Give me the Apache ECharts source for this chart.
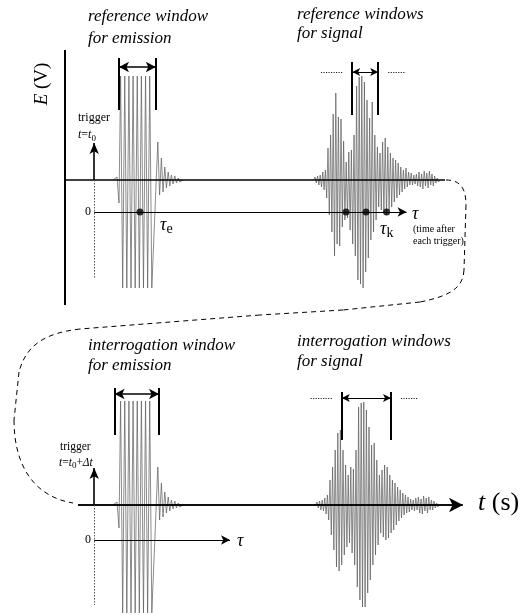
<!DOCTYPE html>
<html>
<head>
<meta charset="utf-8">
<script src="https://cdn.jsdelivr.net/npm/echarts@6/dist/echarts.min.js"></script>
<style>
html,body{margin:0;padding:0;background:#fff;}
#chart{width:525px;height:615px;}
</style>
</head>
<body>
<div id="chart"></div>
<script>
// ---------------- data (time in µs, field E in V, arbitrary schematic units) ----------------
// emission burst (clipped drive pulse followed by ringing), same in both records
const emissionT = [12.0, 13.0, 13.5,
  13.9, 14.15, 14.42, 14.67, 14.94, 15.19, 15.46, 15.71,
  15.98, 16.23, 16.50, 16.75, 17.02, 17.27, 17.54, 17.79,
  18.06, 18.31, 18.58, 18.83, 19.10, 19.35, 19.62, 19.87,
  20.14, 20.39, 20.66, 20.91, 21.18, 21.43, 21.70, 21.95,
  23.2, 23.65, 24.1, 24.5, 24.95, 25.35, 25.8, 26.2, 26.6, 27.0, 27.45, 27.85, 28.3, 28.7, 29.5];
const emissionE = [0, 0.03, -0.23,
  1.04, 1.04, -1.08, -1.08, 1.04, 1.04, -1.08, -1.08,
  1.04, 1.04, -1.08, -1.08, 1.04, 1.04, -1.08, -1.08,
  1.04, 1.04, -1.08, -1.08, 1.04, 1.04, -1.08, -1.08,
  1.04, 1.04, -1.08, -1.08, 1.04, 1.04, -1.08, -1.08,
  0.38, -0.15, 0.22, -0.12, 0.13, -0.08, 0.08, -0.06, 0.05, -0.04, 0.04, -0.03, 0.02, -0.02, 0];

// coda signal: successive half-cycle peaks (top, bottom, top, ...)
const signalHalfPeriod = 0.325;
const refSignalStart = 62.5;
const refSignalPeaks = [
  0.03,-0.03, 0.04,-0.05, 0.05,-0.07, 0.08,-0.10, 0.10,-0.18,
  0.32,-0.35, 0.45,-0.52, 0.66,-0.76, 0.87,-0.64, 0.63,-0.66,
  0.61,-0.47, 0.39,-0.40, 0.18,-0.38, 0.28,-0.50, 0.30,-0.64,
  0.45,-0.76, 0.94,-1.00, 1.03,-1.04, 1.04,-1.08, 0.98,-0.92,
  0.80,-0.78, 0.62,-0.60, 0.78,-0.52, 0.45,-0.40, 0.33,-0.27,
  0.27,-0.30, 0.38,-0.33, 0.42,-0.35, 0.33,-0.30, 0.27,-0.27,
  0.22,-0.22, 0.20,-0.18, 0.17,-0.15, 0.13,-0.12, 0.10,-0.09,
  0.12,-0.07, 0.08,-0.05, 0.07,-0.05, 0.05,-0.04, 0.06,-0.06,
  0.08,-0.07, 0.06,-0.09, 0.09,-0.06, 0.07,-0.08, 0.09,-0.05,
  0.06,-0.06, 0.04,-0.03, 0.02,-0.02];
const intSignalStart = 63.0;
const intSignalPeaks = [
  0.03,-0.03, 0.04,-0.05, 0.05,-0.06, 0.07,-0.09, 0.10,-0.15,
  0.25,-0.30, 0.38,-0.45, 0.55,-0.62, 0.72,-0.66, 0.75,-0.60,
  0.55,-0.50, 0.40,-0.42, 0.30,-0.38, 0.38,-0.48, 0.36,-0.60,
  0.55,-0.82, 0.98,-0.95, 1.02,-1.02, 1.03,-1.02, 0.95,-0.88,
  0.78,-0.75, 0.60,-0.60, 0.62,-0.50, 0.45,-0.40, 0.30,-0.28,
  0.35,-0.32, 0.40,-0.35, 0.38,-0.33, 0.30,-0.28, 0.25,-0.25,
  0.22,-0.20, 0.18,-0.16, 0.15,-0.13, 0.12,-0.10, 0.10,-0.08,
  0.08,-0.07, 0.06,-0.05, 0.05,-0.06, 0.07,-0.05, 0.08,-0.08,
  0.06,-0.09, 0.09,-0.06, 0.07,-0.08, 0.08,-0.05, 0.05,-0.05,
  0.04,-0.03, 0.02,-0.02];

// annotation values (time µs / E)
const triggerT = 7.3;
const triggerTipE = 0.37;
const refAxisEndT = 95;
const intAxisStartT = 3.25, intAxisEndT = 99.5;
const refTauE = -0.32, intTauE = -0.35;
const refTauEndT = 85.4, intTauEndT = 41.25;
const refDotsT = [18.75, 70.25, 75.25, 80.4];
const refEmissionWindow = [13.5, 22.7];
const refSignalWindow = [71.8, 78.3];
const intEmissionWindow = [12.4, 23.5];
const intSignalWindow = [69.2, 81.5];

// ---------------- build ----------------
function burst(start, peaks) {
  const pts = [[start - signalHalfPeriod, 0]];
  peaks.forEach((v, i) => pts.push([start + i * signalHalfPeriod, v]));
  pts.push([start + peaks.length * signalHalfPeriod, 0]);
  return pts;
}
const emissionData = emissionT.map((t, i) => [t, emissionE[i]]);

function seg(a, b, style, s0, s1, size) {
  return [
    {coord: a, symbol: s0 || 'none', symbolSize: size || 8, lineStyle: style},
    {coord: b, symbol: s1 || 'none', symbolSize: size || 8}
  ];
}
const BL = {color: '#000', width: 2, type: 'solid'};
const TH = {color: '#000', width: 1, type: 'solid'};
const DOT = {color: '#222', width: 1, type: [1.2, 1.3]};
const VDOT = {color: '#555', width: 1, type: [1.5, 1.5]};

function annotations(win, sigWin, winTop, winBot, arrE, tauE, tauEnd, trigBottom) {
  return [
    seg([triggerT, 0], [triggerT, triggerTipE], {color:'#000', width:1.6, type:'solid'}, 'none', 'arrow', [7, 11]),
    seg([triggerT, 0], [triggerT, trigBottom], VDOT),
    seg([triggerT, tauE], [tauEnd, tauE], TH, 'none', 'arrow', [7, 9]),
    seg([win[0], winBot], [win[0], winTop], BL),
    seg([win[1], winBot], [win[1], winTop], BL),
    seg([win[0], arrE[0]], [win[1], arrE[0]], {color:'#000', width:1.5, type:'solid'}, 'arrow', 'arrow', [8, 10]),
    seg([sigWin[0], winBot - 0.05], [sigWin[0], winTop - 0.04], BL),
    seg([sigWin[1], winBot - 0.05], [sigWin[1], winTop - 0.04], BL),
    seg([sigWin[0], arrE[1]], [sigWin[1], arrE[1]], TH, 'arrow', 'arrow', [6, 8]),
    seg([sigWin[0] - 7.8, arrE[1]], [sigWin[0] - 2.3, arrE[1]], DOT),
    seg([sigWin[1] + 2.5, arrE[1]], [sigWin[1] + 6.9, arrE[1]], DOT)
  ];
}

const wave = {type: 'line', symbol: 'none', silent: true, clip: true, z: 1,
  lineStyle: {color: '#5a5a5a', width: 0.7}};

const series = [
  Object.assign({}, wave, {xAxisIndex: 0, yAxisIndex: 0, data: emissionData}),
  Object.assign({}, wave, {xAxisIndex: 0, yAxisIndex: 0, data: burst(refSignalStart, refSignalPeaks)}),
  Object.assign({}, wave, {xAxisIndex: 1, yAxisIndex: 1, data: emissionData}),
  Object.assign({}, wave, {xAxisIndex: 1, yAxisIndex: 1, data: burst(intSignalStart, intSignalPeaks)}),
  {
    type: 'line', xAxisIndex: 0, yAxisIndex: 0, symbol: 'none', silent: true, z: 3,
    data: [[0, 0], [refAxisEndT, 0]], lineStyle: {color: '#000', width: 1.6},
    markLine: {
      silent: true, animation: false, label: {show: false},
      data: [seg([0, -1.25], [0, 1.3], {color:'#000', width:2, type:'solid'})].concat(
        annotations(refEmissionWindow, refSignalWindow, 1.22, 0.70, [1.13, 1.08], refTauE, refTauEndT, -0.98))
    }
  },
  {
    type: 'line', xAxisIndex: 1, yAxisIndex: 1, symbol: 'none', silent: true, z: 3,
    data: [[intAxisStartT, 0], [intAxisEndT - 1, 0]], lineStyle: {color: '#000', width: 1.6},
    markLine: {
      silent: true, animation: false, label: {show: false},
      data: [seg([intAxisStartT, 0], [intAxisEndT, 0], {color:'#000', width:1.6, type:'solid'}, 'none', 'arrow', [11, 14])].concat(
        annotations(intEmissionWindow, intSignalWindow, 1.17, 0.70, [1.11, 1.07], intTauE, intTauEndT, -1.0))
    }
  },
  {
    type: 'scatter', xAxisIndex: 0, yAxisIndex: 0, silent: true, z: 4,
    symbolSize: 7, itemStyle: {color: '#000'},
    data: refDotsT.map(t => [t, refTauE])
  }
];

const SERIF = '"Liberation Serif", "DejaVu Serif", serif';
function txt(x, y, text, size, opts) {
  opts = opts || {};
  return {
    type: 'text', x: x, y: y, rotation: opts.rot || 0, silent: true, z: 10,
    style: {
      text: text, fontFamily: SERIF, fontSize: size, fontStyle: opts.italic ? 'italic' : 'normal',
      fill: '#000', align: opts.align || 'left', verticalAlign: 'middle',
      rich: {
        i: {fontFamily: SERIF, fontSize: size, fontStyle: 'italic', fill: '#000'},
        n: {fontFamily: SERIF, fontSize: size, fill: '#000'},
        sub: {fontFamily: SERIF, fontSize: Math.round(size * 0.75), fill: '#000', verticalAlign: 'bottom', lineHeight: size * 1.3}
      }
    }
  };
}

// dashed connector between the two records (pixel layout, decorative)
const dashStyle = {fill: 'none', stroke: '#000', lineWidth: 1, lineDash: [5, 4]};
function bez(x1, y1, c1x, c1y, c2x, c2y, x2, y2) {
  return {type: 'bezierCurve', silent: true, z: 5, shape: {x1: x1, y1: y1, cpx1: c1x, cpy1: c1y, cpx2: c2x, cpy2: c2y, x2: x2, y2: y2}, style: dashStyle};
}
function ln(x1, y1, x2, y2) {
  return {type: 'line', silent: true, z: 5, shape: {x1: x1, y1: y1, x2: x2, y2: y2}, style: dashStyle};
}

const graphic = [
  txt(88, 17, 'reference window', 17, {italic: true}),
  txt(88, 39, 'for emission', 17, {italic: true}),
  txt(297, 15, 'reference windows', 17, {italic: true}),
  txt(297, 34, 'for signal', 17, {italic: true}),
  txt(88, 346, 'interrogation window', 17, {italic: true}),
  txt(88, 366, 'for emission', 17, {italic: true}),
  txt(297, 342, 'interrogation windows', 17, {italic: true}),
  txt(297, 362, 'for signal', 17, {italic: true}),
  txt(42, 84, '{i|E} (V)', 19, {rot: Math.PI / 2, align: 'center'}),
  txt(78, 118, 'trigger', 12),
  txt(78, 135, '{i|t}={i|t}{sub|0}', 12),
  txt(60, 447, 'trigger', 11.5),
  txt(59, 463, '{i|t}={i|t}{sub|0}+{i|Δt}', 11.5),
  txt(91, 212, '0', 12, {align: 'right'}),
  txt(91, 540, '0', 12, {align: 'right'}),
  txt(412, 214, 'τ', 18, {italic: true}),
  txt(237, 541, 'τ', 18, {italic: true}),
  txt(160, 225, '{i|τ}{sub|e}', 18),
  txt(380, 229, '{i|τ}{sub|k}', 18),
  txt(413, 229, '(time after', 10),
  txt(413, 241, 'each trigger)', 10),
  txt(478, 503, '{i|t} (s)', 26),
  bez(446, 180, 460, 180, 466, 188, 466, 205),
  ln(466, 205, 464, 270),
  bez(464, 270, 463, 288, 450, 296, 420, 302),
  ln(420, 302, 343, 310),
  ln(343, 310, 260, 315),
  ln(260, 315, 80, 329),
  bez(80, 329, 45, 333, 26, 345, 19, 372),
  ln(19, 372, 14, 420),
  bez(14, 420, 14, 468, 36, 497, 73, 503)
];

const chart = echarts.init(document.getElementById('chart'), null, {renderer: 'canvas'});
chart.setOption({
  animation: false,
  grid: [
    {left: 65, top: 50, width: 425, height: 260},
    {left: 65, top: 375, width: 425, height: 240}
  ],
  xAxis: [
    {type: 'value', gridIndex: 0, min: 0, max: 106.25, show: false},
    {type: 'value', gridIndex: 1, min: 0, max: 106.25, show: false}
  ],
  yAxis: [
    {type: 'value', gridIndex: 0, min: -1.3, max: 1.3, show: false},
    {type: 'value', gridIndex: 1, min: -1.1, max: 1.3, show: false}
  ],
  series: series,
  graphic: graphic
});
</script>
</body>
</html>
